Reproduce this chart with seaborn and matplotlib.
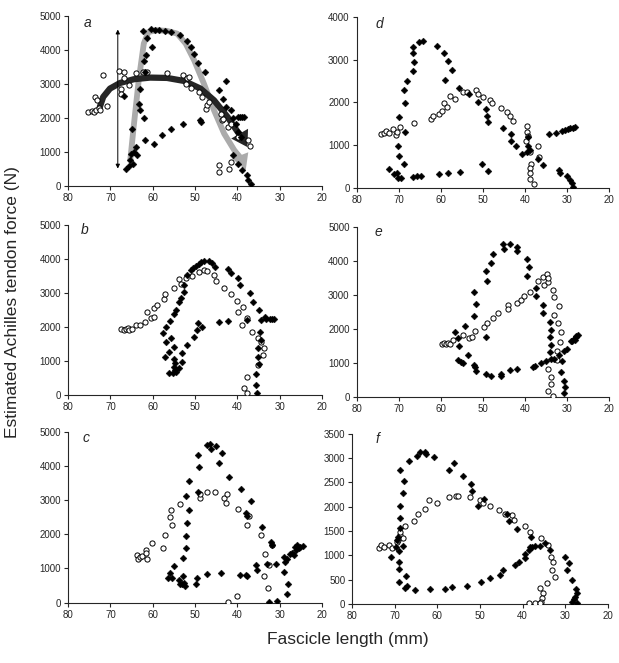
import numpy as np
import pandas as pd
import matplotlib
matplotlib.use("Agg")
import matplotlib.pyplot as plt
import seaborn as sns

# values: fascicle length (mm) and force (N)
a_open_x = [75.2, 74.4, 73.9, 73.3, 73.6, 73.1, 72.8, 72.5, 71.7, 70.9, 67.9, 66.7, 66.9, 67.5, 67.5,
            65.5, 63.9, 62.3, 61.3, 56.6, 52.8, 51.8, 51.3, 52.2, 50.9, 49.0, 47.5, 47.1, 46.7, 48.3,
            43.6, 43.3, 42.1, 41.5, 43.9, 44.4, 44.3, 41.9, 41.5, 37.4, 37.1, 39.8]
a_open_y = [2182, 2202, 2182, 2231, 2622, 2524, 2300, 2231, 3258, 2348, 3376, 3356, 3190, 2867, 2720,
            2965, 3327, 3356, 3356, 3327, 3258, 3180, 3210, 3014, 2887, 2769, 2280, 2378, 2466, 2622,
            1937, 1986, 1742, 1840, 2133, 616, 421, 509, 714, 1350, 1174, 1448]
a_fill_x = [66.3, 65.7, 65.3, 65.2, 64.7, 64.3, 63.9, 63.7, 64.9, 63.1, 63.3, 62.1, 62.9, 62.0, 61.7,
            61.6, 61.3, 62.3, 60.1, 66.7, 60.4, 59.4, 58.5, 57.1, 55.6, 53.6, 51.8, 50.9, 50.2, 49.2,
            47.7, 44.3, 42.7, 43.3, 42.7, 41.5, 41.0, 40.4, 39.8, 39.3, 38.9, 38.5, 39.9, 39.1, 41.1,
            39.9, 38.9, 37.7, 37.4, 36.7, 61.9, 59.6, 57.8, 55.6, 52.9, 48.7, 48.5]
a_fill_y = [519, 597, 763, 939, 665, 1008, 1155, 910, 1693, 2231, 2427, 2016, 2867, 3669, 3356,
            3845, 4364, 4560, 4090, 2642, 4628, 4599, 4579, 4560, 4540, 4452, 4266, 4090, 3875, 3630,
            3366, 2838, 3082, 2573, 2329, 2231, 2016, 1840, 2035, 2035, 2035, 2035, 1595, 1448, 910,
            665, 470, 323, 176, 78, 1350, 1233, 1497, 1683, 1820, 1937, 1889]

b_open_x = [67.4, 66.9, 66.2, 65.8, 65.5, 65.0, 63.9, 62.9, 61.7, 61.3, 60.4, 59.8, 59.6, 59.0, 57.4,
            57.0, 54.9, 53.8, 53.4, 52.2, 50.6, 49.1, 47.9, 47.1, 45.6, 45.0, 43.2, 41.4, 40.0, 39.9,
            38.6, 38.8, 37.8, 36.6, 35.1, 34.3, 33.7, 33.9, 35.2, 37.6, 38.3, 37.8]
b_open_y = [1931, 1912, 1941, 1980, 1912, 1931, 2059, 2059, 2157, 2431, 2255, 2304, 2549, 2647, 2824,
            2961, 3137, 3402, 3255, 3431, 3500, 3608, 3677, 3647, 3529, 3353, 3157, 2961, 2765, 2431,
            2578, 2059, 2255, 1863, 1686, 1549, 1373, 1176, 882, 539, 216, 49]
b_fill_x = [51.0, 50.4, 49.7, 49.1, 48.5, 47.9, 46.6, 46.0, 45.3, 42.2, 41.5, 39.9, 39.4, 36.9, 36.2,
            34.8, 34.5, 33.5, 33.1, 32.3, 31.8, 31.3, 51.8, 52.6, 52.5, 53.4, 53.8, 54.5, 54.9, 55.9,
            56.9, 57.5, 56.9, 56.2, 57.1, 55.7, 54.9, 54.9, 54.8, 54.9, 54.7, 56.1, 55.3, 54.5, 53.8,
            53.0, 53.0, 51.8, 50.2, 49.5, 49.2, 48.3, 44.3, 42.1, 37.8, 34.6, 34.3, 35.2, 35.1, 34.9,
            35.5, 35.6, 35.4]
b_fill_y = [3677, 3725, 3794, 3853, 3902, 3951, 3922, 3873, 3775, 3706, 3578, 3431, 3235, 2990, 2745,
            2510, 2206, 2304, 2235, 2235, 2235, 2235, 3529, 3235, 3039, 2843, 2725, 2500, 2373, 2176,
            2010, 1814, 1569, 1275, 1127, 1686, 1402, 1059, 931, 833, 735, 657, 637, 667, 784,
            980, 1225, 1471, 1716, 1912, 2108, 2010, 2157, 2176, 2206, 1863, 1618, 1373, 1127, 902,
            618, 294, 49]

c_open_x = [63.7, 63.5, 63.0, 62.5, 61.6, 61.6, 61.3, 60.1, 57.5, 57.2, 56.0, 55.6, 55.4, 53.6, 48.9,
            48.7, 47.2, 45.2, 43.1, 42.4, 42.6, 39.8, 37.2, 37.6, 34.3, 31.8, 33.4, 32.6, 33.6, 32.8,
            40.1, 42.2]
c_open_y = [1406, 1270, 1338, 1367, 1533, 1465, 1270, 1758, 1611, 1992, 2490, 2705, 2266, 2881, 3047,
            3174, 3233, 3233, 3047, 3174, 2900, 2725, 2529, 2266, 1982, 1690, 1416, 1094, 772, 430,
            205, 20]
c_fill_x = [56.4, 55.8, 55.0, 55.4, 53.7, 53.1, 52.5, 52.3, 53.6, 52.8, 52.9, 52.1, 52.1, 52.0, 52.1,
            51.5, 51.3, 49.4, 49.4, 49.1, 47.2, 46.4, 46.2, 45.0, 43.5, 44.4, 41.9, 39.1, 36.8, 38.0,
            37.7, 34.2, 32.0, 31.8, 49.7, 49.5, 47.2, 43.9, 39.4, 37.9, 37.7, 35.6, 35.4, 33.0, 30.9,
            28.9, 28.7, 28.9, 28.1, 28.3, 30.6, 32.4, 28.3, 27.6, 27.1, 26.7, 26.1, 25.9, 25.5, 25.1,
            24.5, 26.3]
c_fill_y = [723, 879, 1074, 723, 654, 557, 576, 488, 557, 781, 1309, 1611, 1953, 2334, 3115,
            3565, 2705, 3242, 4317, 3975, 4610, 4629, 4483, 4580, 4385, 4072, 3682, 3311, 2979, 2608,
            2529, 2217, 1777, 1680, 557, 723, 850, 869, 820, 820, 781, 1094, 947, 1143, 1143,
            1338, 1191, 899, 557, 244, 49, 20, 1289, 1416, 1455, 1387, 1533, 1680, 1611, 1631,
            1650, 1631]

d_open_x = [74.1, 73.5, 72.9, 72.2, 71.3, 70.7, 70.3, 69.7, 66.3, 62.3, 61.9, 60.4, 59.8, 59.3, 58.6,
            57.7, 56.5, 54.7, 53.7, 51.7, 51.1, 49.9, 48.2, 47.9, 45.7, 44.2, 43.6, 42.8, 39.6, 39.4,
            39.2, 39.8, 37.0, 38.7, 36.6, 38.5, 38.7, 38.9, 38.9, 37.8]
d_open_y = [1252, 1276, 1331, 1276, 1386, 1237, 1299, 1432, 1526, 1613, 1683, 1730, 1800, 1996, 1887,
            2153, 2074, 2247, 2247, 2294, 2200, 2137, 2059, 1980, 1879, 1777, 1683, 1573, 1448, 1315,
            1213, 1104, 979, 845, 712, 556, 454, 352, 203, 78]
d_fill_x = [72.4, 71.2, 70.3, 70.1, 69.5, 70.1, 69.9, 68.7, 68.4, 69.9, 68.5, 68.7, 68.1, 66.5, 66.3,
            66.5, 66.5, 65.1, 64.2, 60.8, 59.2, 58.2, 57.4, 59.0, 55.6, 53.4, 51.1, 49.3, 49.1, 48.7,
            45.2, 43.2, 43.4, 42.0, 40.7, 39.5, 39.2, 39.2, 38.8, 36.8, 35.8, 34.2, 32.6, 31.3, 30.5,
            29.7, 29.2, 28.5, 28.1, 31.9, 31.7, 29.9, 29.3, 28.8, 28.5, 66.7, 65.7, 64.6, 60.4, 58.2,
            55.5, 50.3, 48.7]
d_fill_y = [430, 321, 337, 235, 219, 979, 744, 548, 1299, 1667, 1980, 2294, 2505, 2748, 2959,
            3155, 3311, 3413, 3444, 3327, 3170, 2975, 2763, 2528, 2333, 2208, 2020, 1840, 1691, 1542,
            1393, 1252, 1104, 986, 783, 845, 979, 1182, 885, 673, 532, 1252, 1292, 1339, 1354,
            1370, 1393, 1409, 1432, 415, 337, 274, 180, 102, 23, 258, 274, 282, 321, 352,
            360, 548, 399]

e_open_x = [59.8, 59.2, 58.8, 58.2, 57.8, 57.0, 54.8, 53.4, 52.6, 51.9, 49.7, 49.0, 47.7, 46.3, 44.1,
            44.1, 41.8, 41.0, 40.2, 38.8, 36.8, 35.8, 35.4, 34.8, 34.6, 34.6, 33.3, 33.2, 33.2, 31.9,
            32.1, 31.5, 31.6, 32.3, 32.4, 34.4, 33.7, 33.7, 34.5, 33.4]
e_open_y = [1569, 1588, 1569, 1598, 1569, 1667, 1833, 1735, 1765, 1931, 2049, 2176, 2324, 2471, 2696,
            2588, 2765, 2863, 2961, 3078, 3422, 3520, 3284, 3618, 3382, 3500, 3157, 2941, 2422, 2686,
            2176, 1902, 1618, 1363, 1078, 833, 588, 382, 167, 39]
e_fill_x = [56.6, 56.0, 55.6, 55.8, 55.2, 54.8, 53.6, 52.2, 52.0, 51.7, 52.2, 51.8, 51.7, 54.3, 49.2,
            49.3, 49.3, 48.9, 48.0, 47.7, 45.1, 44.9, 43.5, 41.9, 41.8, 39.6, 39.0, 39.6, 37.4, 37.4,
            35.7, 35.7, 34.1, 33.7, 34.0, 33.7, 34.0, 33.7, 31.1, 31.4, 30.6, 30.5, 30.7, 48.1, 45.7,
            45.7, 43.6, 41.9, 38.0, 37.6, 36.1, 35.0, 33.2, 31.9, 30.7, 30.1, 29.1, 28.7, 28.3, 27.9,
            27.5, 28.1, 27.8]
e_fill_y = [1912, 1735, 1490, 1078, 1020, 1000, 1245, 2373, 3088, 2735, 951, 873, 775, 2098, 676,
            1755, 3716, 3422, 3941, 4186, 4480, 4353, 4480, 4402, 4284, 4059, 3814, 3549, 3206, 2961,
            2696, 2471, 2206, 1980, 1755, 1539, 1314, 1118, 1049, 735, 480, 284, 118, 608, 608,
            676, 784, 833, 873, 902, 1000, 1049, 1118, 1245, 1343, 1422, 1637, 1637, 1706, 1755,
            1833, 1686, 1784]

f_open_x = [73.8, 73.2, 72.6, 71.3, 70.6, 69.6, 69.3, 68.7, 68.0, 68.7, 67.5, 65.5, 64.6, 63.0, 62.0,
            60.2, 57.3, 55.6, 55.2, 52.4, 49.9, 49.3, 47.6, 45.5, 44.1, 42.6, 42.0, 39.4, 38.2, 35.7,
            34.1, 33.4, 32.9, 33.1, 32.5, 34.3, 35.9, 35.3, 35.5, 35.6, 38.4, 37.0, 36.0]
f_open_y = [1160, 1215, 1180, 1215, 1160, 1270, 1318, 1421, 1352, 1489, 1592, 1695, 1846, 1949, 2128,
            2073, 2189, 2210, 2224, 2189, 2141, 2073, 2004, 1935, 1853, 1819, 1716, 1606, 1469, 1352,
            1215, 975, 858, 700, 563, 426, 323, 220, 117, 48, 14, 27, 27]
f_fill_x = [70.8, 69.8, 69.6, 69.3, 69.1, 69.1, 69.1, 69.0, 68.0, 68.7, 68.8, 68.7, 68.0, 67.9, 68.7,
            66.7, 64.9, 64.1, 62.8, 62.6, 60.9, 57.3, 56.1, 54.0, 52.1, 51.9, 50.5, 49.0, 43.7, 43.3,
            41.3, 38.0, 39.4, 39.4, 38.6, 38.2, 37.7, 37.0, 35.9, 34.7, 33.5, 40.9, 41.9, 44.5, 45.2,
            47.6, 49.8, 53.0, 56.6, 58.3, 61.8, 65.3, 67.1, 67.5, 67.3, 30.0, 29.6, 29.1, 28.4, 28.0,
            27.5, 27.3, 27.8, 28.4, 27.3]
f_fill_y = [975, 1180, 1318, 1373, 1098, 872, 721, 460, 1194, 1558, 1764, 2018, 2279, 2519, 2745,
            2930, 3047, 3123, 3116, 3088, 3013, 2759, 2896, 2622, 2471, 2327, 2004, 2162, 1846, 1695,
            1544, 1386, 1029, 940, 1112, 1167, 1180, 1194, 1194, 1249, 1112, 872, 803, 700, 597,
            528, 446, 377, 357, 309, 302, 288, 370, 323, 576, 975, 700, 837, 494, 96,
            309, 233, 137, 48, 14]

# annotation paths in panel a
band_x = [65.3, 64.5, 63.3, 62.1, 61.0, 59.0, 56.6, 54.2, 52.2, 50.2, 47.9, 45.5, 43.1, 40.7, 39.0]
band_y = [763, 1742, 3112, 4188, 4530, 4580, 4560, 4480, 4188, 3699, 3014, 2231, 1546, 1057, 800]
band_tip = (38.0, 480)
curve_x = [72.5, 71.7, 70.1, 67.7, 64.5, 60.6, 56.6, 52.6, 48.7, 45.5, 42.3, 39.9, 39.0]
curve_y = [2329, 2622, 2867, 3033, 3141, 3190, 3180, 3092, 2867, 2524, 2035, 1595, 1450]
curve_tip = (37.6, 1150)
vbar_x = 68.25
vbar_y = [520, 4600]

panels = ["a", "b", "c", "d", "e", "f"]
ymax = {"a": 5000, "b": 5000, "c": 5000, "d": 4000, "e": 5000, "f": 3500}
ystep = {"a": 1000, "b": 1000, "c": 1000, "d": 1000, "e": 1000, "f": 500}

series = {
    "a": (a_fill_x, a_fill_y, a_open_x, a_open_y),
    "b": (b_fill_x, b_fill_y, b_open_x, b_open_y),
    "c": (c_fill_x, c_fill_y, c_open_x, c_open_y),
    "d": (d_fill_x, d_fill_y, d_open_x, d_open_y),
    "e": (e_fill_x, e_fill_y, e_open_x, e_open_y),
    "f": (f_fill_x, f_fill_y, f_open_x, f_open_y),
}

rows = []
for p in panels:
    fx, fy, ox, oy = series[p]
    rows += [dict(panel=p, length=x, force=y, kind="filled") for x, y in zip(fx, fy)]
    rows += [dict(panel=p, length=x, force=y, kind="open") for x, y in zip(ox, oy)]
df = pd.DataFrame(rows)

sns.set_style("ticks")
plt.rcParams["font.family"] = ["Liberation Sans", "DejaVu Sans"]

fig = plt.figure(figsize=(6.19, 6.63), dpi=100)

# axes boxes (left, bottom, width, height) in figure fraction
boxes = {
    "a": [0.110, 0.719, 0.410, 0.257],
    "b": [0.110, 0.404, 0.410, 0.257],
    "c": [0.110, 0.091, 0.410, 0.258],
    "d": [0.576, 0.717, 0.408, 0.257],
    "e": [0.576, 0.401, 0.408, 0.257],
    "f": [0.569, 0.089, 0.413, 0.257],
}
letter_pos = {"a": (0.075, 0.96), "b": (0.065, 0.97), "c": (0.07, 0.965),
              "d": (0.09, 0.96), "e": (0.085, 0.97), "f": (0.10, 0.97)}

for p in panels:
    ax = fig.add_axes(boxes[p])
    sub = df[df["panel"] == p]
    if p == "a":
        ax.plot(band_x, band_y, color="#ababab", lw=4.2, solid_capstyle="butt", zorder=1)
        ax.annotate("", xy=band_tip, xytext=(band_x[-1], band_y[-1]),
                    arrowprops=dict(arrowstyle="-|>,head_length=0.8,head_width=0.45",
                                    color="#ababab", lw=0, shrinkA=0, shrinkB=0,
                                    mutation_scale=14), zorder=1)
        ax.plot(curve_x, curve_y, color="#262626", lw=4.5, solid_capstyle="round", zorder=2)
        ax.annotate("", xy=curve_tip, xytext=(curve_x[-1], curve_y[-1]),
                    arrowprops=dict(arrowstyle="-|>,head_length=0.8,head_width=0.5",
                                    color="#262626", lw=0, shrinkA=0, shrinkB=0,
                                    mutation_scale=14), zorder=2)
        ax.annotate("", xy=(vbar_x, vbar_y[1]), xytext=(vbar_x, vbar_y[0]),
                    arrowprops=dict(arrowstyle="<|-|>", color="black", lw=0.7, mutation_scale=6,
                                    shrinkA=0, shrinkB=0), zorder=2)
    sns.scatterplot(data=sub[sub["kind"] == "open"], x="length", y="force", ax=ax,
                    marker="o", s=14, facecolor="white", edgecolor="black", linewidth=0.7,
                    zorder=3, legend=False)
    sns.scatterplot(data=sub[sub["kind"] == "filled"], x="length", y="force", ax=ax,
                    marker="D", s=12, color="black", edgecolor="black", linewidth=0.3,
                    zorder=4, legend=False)
    ax.set_xlim(80, 20)
    ax.set_ylim(0, ymax[p])
    ax.set_xticks(np.arange(80, 19, -10))
    ax.set_yticks(np.arange(0, ymax[p] + 1, ystep[p]))
    ax.set_xlabel("")
    ax.set_ylabel("")
    ax.tick_params(labelsize=7, length=3, width=0.8, pad=2)
    for s in ["left", "bottom"]:
        ax.spines[s].set_linewidth(0.8)
    sns.despine(ax=ax)
    ax.text(*letter_pos[p], p, transform=ax.transAxes, fontsize=10, fontstyle="italic",
            ha="center", va="center")

fig.text(0.562, 0.035, "Fascicle length (mm)", fontsize=12.5, ha="center", va="center")
fig.text(0.021, 0.545, "Estimated Achilles tendon force (N)", fontsize=12.5, rotation=90,
         ha="center", va="center")

fig.savefig("out.png", dpi=100)
